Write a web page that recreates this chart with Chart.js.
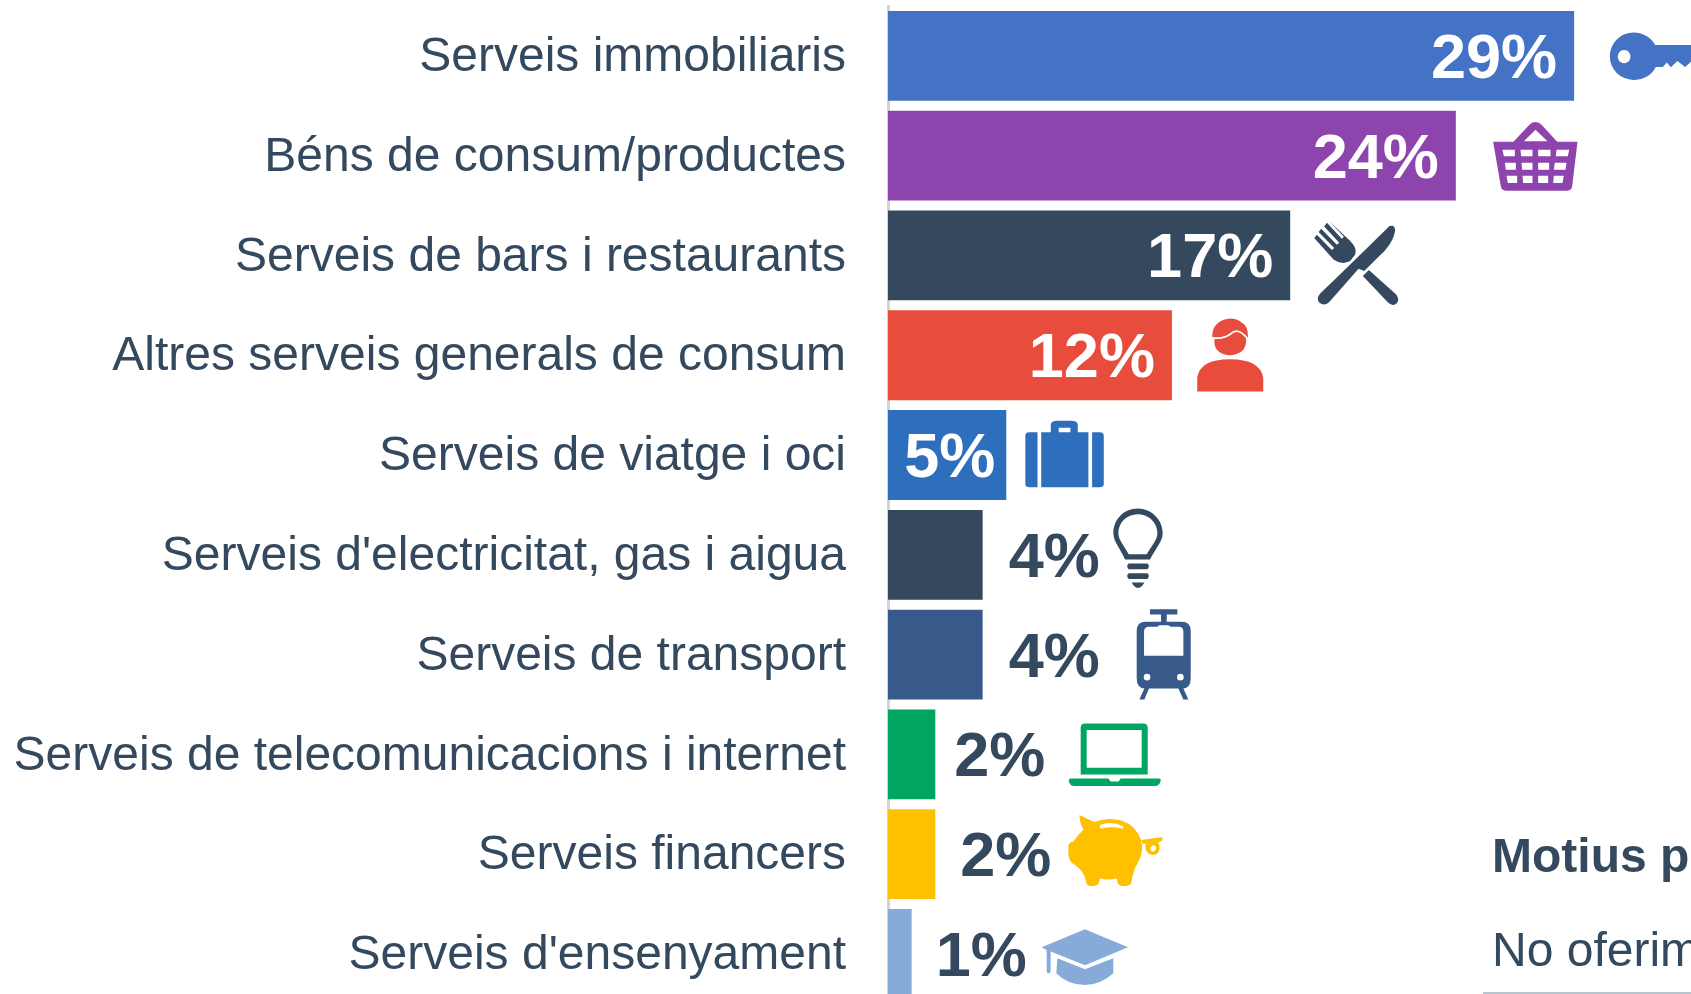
<!DOCTYPE html>
<html>
<head>
<meta charset="utf-8">
<title>Motius</title>
<script src="https://cdn.jsdelivr.net/npm/chart.js@4/dist/chart.umd.js"></script>
<style>
    html, body { margin: 0; padding: 0; background: #fff; overflow: hidden; }
    #wrap { width: 1691px; height: 994px; overflow: hidden; }
</style>
</head>
<body>
<div id="wrap"><canvas id="chart" width="1691" height="1011"></canvas></div>
<script>
var categories = [
    "Serveis immobiliaris",
    "Béns de consum/productes",
    "Serveis de bars i restaurants",
    "Altres serveis generals de consum",
    "Serveis de viatge i oci",
    "Serveis d'electricitat, gas i aigua",
    "Serveis de transport",
    "Serveis de telecomunicacions i internet",
    "Serveis financers",
    "Serveis d'ensenyament"
];
var percentages = [29, 24, 17, 12, 5, 4, 4, 2, 2, 1];

var barColors = ["#4472c4", "#8e44ad", "#34495e", "#e74c3c", "#2e6fbd", "#34495e", "#375a8a", "#00a562", "#ffc000", "#87abd8"];
var textColor = "#34495e";
var fontName = "'Liberation Sans', Arial, sans-serif";
// gap between bar end and the value text, negative means inside the bar
var labelGaps = [-17, -17, -17, -17, -11, 26, 26, 19, 25, 24];

// icons are traced from the picture, path units are 1/sx and 1/sy of a pixel
// dx, dy place the path origin relative to the bar end and bar middle
var icons = [
    { dx: -94, dy: -46, sx: 1/3, sy: 1/3,
      path: "M460 68 A71 71 0 0 1 525 105 H640 V155 L633 155 L615 171 L592 153 L572 172 L560 158 L548 171 H527 A71 71 0 0 1 460 210 A71 71 0 0 1 460 68 Z M432 120 a19 20 0 1 0 .01 0Z" },
    { dx: 24, dy: -146, sx: 1/3, sy: 1/3,
      path: "M167 337 Q178 337 186 346 L232 396 H293 L277 530 Q275 543 262 543 H78 Q65 543 63 530 L40 396 H101 L148 346 Q156 337 167 337Z M167 360 L132 395 H203Z " +
            "M68 420H105V440H72Z M122 420H158V440H124Z M175 420H212V440H175Z M230 420H268L264 440H228Z " +
            "M75 459H108V480H78Z M125 459H158V480H127Z M175 459H208V480H175Z M225 459H260L257 480H222Z " +
            "M80 498H112V520H84Z M128 498H158V520H130Z M175 498H205V520H175Z M222 498H252L248 520H220Z" },
    { dx: 10, dy: -46, sx: 1/3, sy: 1/3,
      path: "M268 50 Q284 44 285 64 Q278 105 235 142 L192 185 L175 178 L88 277 Q72 292 58 280 Q46 268 60 252 L150 165 Z " +
            "M206 182 L288 255 Q300 272 288 283 Q275 292 262 278 L188 200Z " +
            "M88 36 L150 95 Q172 118 165 135 L150 155 Q125 168 100 150 L42 86 L50 76 L95 122 L102 116 L55 68 L63 58 L110 106 L117 100 L72 51 L80 40 L125 88 L131 82Z" },
    { dx: 8, dy: -46, sx: 1/3, sy: 1/3,
      path: "M150 28 Q172 28 185 40 Q205 48 204 85 L198 82 Q205 135 150 138 Q98 135 104 88 L97 85 Q95 35 150 28Z M52 247 V205 Q60 150 150 150 Q240 150 250 205 V247Z",
      cut: "M97 85 Q130 92 155 72 Q175 55 200 85" },
    { dx: -146.3, dy: -455, sx: 1/1.887, sy: 1/3,
      path: "M320 1297H335V1462H320Q312 1462 312 1452V1307Q312 1297 320 1297Z M342 1297H360V1275Q360 1262 373 1262H398Q411 1262 411 1275V1297H431V1462H342Z M375 1283V1297H397V1283Z M438 1297H452Q460 1297 460 1307V1452Q460 1462 452 1462H438Z" },
    { dx: 117.4, dy: -54.5, sx: 1/3, sy: 1/3,
      path: "M113 25 C70 25 40 60 40 98 C40 125 62 145 75 178 H150 C165 145 188 125 188 98 C188 60 155 25 113 25Z M113 42 C80 42 55 68 55 98 C55 120 72 135 86 162 H140 C155 135 172 120 172 98 C172 68 146 42 113 42Z " +
            "M86 190 H142 Q151 198 142 207 H86 Q77 198 86 190Z M86 219 H142 Q151 227 142 236 H86 Q77 227 86 219Z M95 247 H133 Q125 263 114 263 Q103 263 95 247Z" },
    { dx: 117.4, dy: -154.4, sx: 1/3, sy: 1/3,
      path: "M150 327 H232 V343 H200 V365 H245 Q272 365 272 392 V535 Q272 562 250 565 L265 598 H250 L235 565 H147 L133 598 H118 L133 565 Q110 562 110 535 V392 Q110 365 137 365 H183 V343 H150Z " +
            "M132 395 Q132 382 145 380 H172 L178 375 H205 L212 380 H238 Q250 382 250 395 V467 H132Z M131 531 a10 10 0 1 0 20 0 a10 10 0 1 0 -20 0Z M231 531 a10 10 0 1 0 20 0 a10 10 0 1 0 -20 0Z" },
    { dx: 104.7, dy: -44.3, sx: 1/3, sy: 1/3,
      path: "M135 40 H310 Q323 40 323 53 V193 H122 V53 Q122 40 135 40Z M140 60 V173 H305 V60Z M92 205 H205 L212 214 H236 L242 205 H358 Q365 205 360 218 Q355 228 345 228 H102 Q92 228 88 218 Q83 207 92 205Z" },
    { dx: 104.7, dy: -144.2, sx: 1/3, sy: 1/3,
      path: "M118 315 L163 336 Q205 320 245 332 Q290 348 305 395 Q312 430 290 465 Q278 485 275 515 Q272 528 258 528 H245 Q235 528 232 515 L230 505 Q205 512 180 505 L178 515 Q175 528 162 528 H150 Q140 528 138 515 Q135 495 120 478 L105 465 Q88 458 85 435 V410 Q85 398 100 395 Q112 375 130 360 Q118 335 118 315Z " +
            "M180 345 Q215 332 250 350 Q252 358 245 356 Q215 348 185 356 Q178 355 180 345Z " +
            "M303 390 Q335 385 365 382 Q372 388 362 395 L355 397 Q365 420 350 432 Q335 440 322 428 Q312 415 318 402 L303 400Z M340 405 Q328 412 332 422 Q340 430 348 418 Q350 408 340 405Z" },
    { dx: 129, dy: -244, sx: 1/3, sy: 1/3,
      path: "M133 658 L262 712 L133 766 L30 725 V780 Q30 790 24 790 Q18 790 18 780 V720 L3 712Z M50 745 L133 778 L218 745 V790 Q180 825 133 825 Q80 825 47 790Z" }
];

// tick labels sit 2px under the bar middle in the picture
var nudgeTicks = {
    id: "nudgeTicks",
    beforeDraw: function (chart) {
        chart.scales.y.getLabelItems().forEach(function (item) {
            item.options.translation[1] += 2;
        });
    }
};

var valueLabels = {
    id: "valueLabels",
    afterDatasetsDraw: function (chart) {
        var ctx = chart.ctx;
        var meta = chart.getDatasetMeta(0);
        ctx.save();
        ctx.font = "bold 63px " + fontName;
        ctx.textBaseline = "alphabetic";
        meta.data.forEach(function (bar, i) {
            var gap = labelGaps[i];
            ctx.fillStyle = gap < 0 ? "#ffffff" : textColor;
            ctx.textAlign = gap < 0 ? "right" : "left";
            ctx.fillText(percentages[i] + "%", bar.x + gap, bar.y + 22);
        });
        ctx.restore();
    }
};

var barIcons = {
    id: "barIcons",
    afterDatasetsDraw: function (chart) {
        var ctx = chart.ctx;
        var meta = chart.getDatasetMeta(0);
        meta.data.forEach(function (bar, i) {
            var icon = icons[i];
            ctx.save();
            ctx.translate(bar.x + icon.dx, bar.y + icon.dy);
            ctx.scale(icon.sx, icon.sy);
            ctx.fillStyle = barColors[i];
            ctx.fill(new Path2D(icon.path), "evenodd");
            if (icon.cut) {
                ctx.strokeStyle = "#ffffff";
                ctx.lineWidth = 5;
                ctx.stroke(new Path2D(icon.cut));
            }
            ctx.restore();
        });
    }
};

// start of the next block of the page, it is cut off by the window
var sideNote = {
    id: "sideNote",
    afterDraw: function (chart) {
        var ctx = chart.ctx;
        ctx.save();
        ctx.fillStyle = textColor;
        ctx.textAlign = "left";
        ctx.font = "bold 48px " + fontName;
        ctx.fillText("Motius p", 1492, 872);
        ctx.font = "48px " + fontName;
        ctx.fillText("No oferim", 1492, 966);
        ctx.strokeStyle = "#9fb0bd";
        ctx.lineWidth = 1.5;
        ctx.beginPath();
        ctx.moveTo(1483, 993);
        ctx.lineTo(1691, 993);
        ctx.stroke();
        ctx.restore();
    }
};

var chart = new Chart("chart", {
    type: "bar",
    plugins: [nudgeTicks, valueLabels, barIcons, sideNote],
    data: {
        labels: categories,
        datasets: [
            {
                data: percentages,
                backgroundColor: barColors,
                barPercentage: 0.9,
                categoryPercentage: 1
            }
        ]
    },
    options: {
        indexAxis: "y",
        responsive: false,
        animation: false,
        layout: { padding: { top: 6, bottom: 7.2 } },
        plugins: {
            legend: { display: false },
            tooltip: { enabled: false }
        },
        scales: {
            x: {
                display: false,
                min: 0,
                max: 33.94
            },
            y: {
                afterFit: function (axis) {
                    axis.width = 888;
                    axis.paddingTop = 0;
                    axis.paddingBottom = 0;
                },
                grid: { display: false, drawTicks: false },
                border: { display: true, color: "#d4d4d4", width: 3 },
                ticks: {
                    autoSkip: false,
                    padding: 42,
                    color: textColor,
                    font: { family: fontName, size: 48 }
                }
            }
        }
    }
});
</script>
</body>
</html>
